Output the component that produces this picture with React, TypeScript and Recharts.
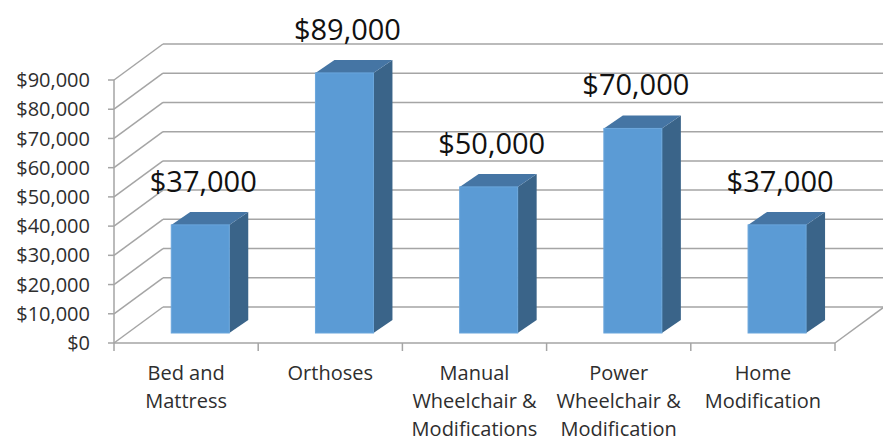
import React from "react";
import { Bar, BarChart, CartesianGrid, LabelList, XAxis, YAxis } from "recharts";

const categories = [
  "Bed and\nMattress",
  "Orthoses",
  "Manual\nWheelchair &\nModifications",
  "Power\nWheelchair &\nModification",
  "Home\nModification",
];
const costs = [37000, 89000, 50000, 70000, 37000];
const yTicks = [0, 10000, 20000, 30000, 40000, 50000, 60000, 70000, 80000, 90000];

const data = categories.map((name, i) => ({ name, cost: costs[i] }));

const FONT = "'Open Sans', 'Liberation Sans', sans-serif";
const GRID = "#a5a5a5";
const TEXT = "#2e2e2e";

// back wall offset of the 3d box
const WALL_DX = 49;
const WALL_DY = -36;
// bar sits a bit into the depth, and has its own depth
const BAR_SHIFT_X = 14;
const BAR_SHIFT_Y = -10;
const BAR_DX = 19;
const BAR_DY = -13;

const money = (v: number) => "$" + v.toLocaleString("en-US");

const GridLine = (props: any) => {
  const { x1, y1, x2, y2, index } = props;
  return (
    <g key={`g-${index}`}>
      <line x1={x1} y1={y1} x2={x1 + WALL_DX} y2={y1 + WALL_DY} stroke={GRID} strokeWidth={1.5} />
      <line
        x1={x1 + WALL_DX}
        y1={y1 + WALL_DY}
        x2={x2 + WALL_DX}
        y2={y2 + WALL_DY}
        stroke={GRID}
        strokeWidth={1.5}
      />
      {index === 0 && (
        <line x1={x2} y1={y2} x2={x2 + WALL_DX} y2={y2 + WALL_DY} stroke={GRID} strokeWidth={1.5} />
      )}
    </g>
  );
};

const Box = (props: any) => {
  const { x, y, width, height } = props;
  const fx = x + BAR_SHIFT_X;
  const fy = y + BAR_SHIFT_Y;
  const top = `M${fx},${fy} L${fx + BAR_DX},${fy + BAR_DY} L${fx + width + BAR_DX},${fy + BAR_DY} L${fx + width},${fy} Z`;
  const side = `M${fx + width},${fy} L${fx + width + BAR_DX},${fy + BAR_DY} L${fx + width + BAR_DX},${fy + height + BAR_DY} L${fx + width},${fy + height} Z`;
  return (
    <g>
      <path d={side} fill="#3a6489" />
      <path d={top} fill="#4575a4" />
      <rect x={fx} y={fy} width={width} height={height} fill="#5b9bd5" stroke="#6aa6dc" strokeWidth={1} />
    </g>
  );
};

const ValueLabel = (props: any) => {
  const { x, y, width, value } = props;
  return (
    <text
      x={x + width / 2 + BAR_SHIFT_X + 3}
      y={y + BAR_SHIFT_Y - 33}
      textAnchor="middle"
      fontFamily={FONT}
      fontSize={29}
      fill="#111"
    >
      {money(value)}
    </text>
  );
};

const CategoryTick = (props: any) => {
  const { x, y, payload, index, visibleTicksCount, width } = props;
  const half =
    payload && payload.offset ? payload.offset : width && visibleTicksCount ? width / visibleTicksCount / 2 : 72;
  const axisY = y - 8;
  const lines = String(payload.value).split("\n");
  return (
    <g>
      <line x1={x - half} y1={axisY} x2={x - half} y2={axisY + 8} stroke={GRID} strokeWidth={1.5} />
      {index === visibleTicksCount - 1 && (
        <line x1={x + half} y1={axisY} x2={x + half} y2={axisY + 8} stroke={GRID} strokeWidth={1.5} />
      )}
      {lines.map((line, i) => (
        <text
          key={i}
          x={x}
          y={y + 29 + i * 28}
          textAnchor="middle"
          fontFamily={FONT}
          fontSize={20}
          fill={TEXT}
        >
          {line}
        </text>
      ))}
    </g>
  );
};

export default function App() {
  return (
    <div style={{ position: "absolute", left: 0, top: 0, background: "#fff" }}>
      <BarChart
        width={883}
        height={442}
        data={data}
        margin={{ top: 80, right: 48, left: 0, bottom: 0 }}
        barCategoryGap="30%"
      >
        <CartesianGrid vertical={false} horizontal={GridLine} />
        <XAxis
          dataKey="name"
          height={99}
          interval={0}
          tickLine={false}
          tickSize={8}
          tickMargin={0}
          axisLine={{ stroke: GRID, strokeWidth: 1.5 }}
          tick={<CategoryTick />}
        />
        <YAxis
          width={114}
          domain={[0, 90000]}
          ticks={yTicks}
          interval={0}
          tickFormatter={money}
          tickSize={6}
          tickMargin={18}
          axisLine={{ stroke: GRID, strokeWidth: 1.5 }}
          tickLine={{ stroke: GRID, strokeWidth: 1.5 }}
          tick={{ fontFamily: FONT, fontSize: 20, fill: TEXT }}
        />
        <Bar dataKey="cost" shape={<Box />} isAnimationActive={false}>
          <LabelList dataKey="cost" content={<ValueLabel />} />
        </Bar>
      </BarChart>
    </div>
  );
}
